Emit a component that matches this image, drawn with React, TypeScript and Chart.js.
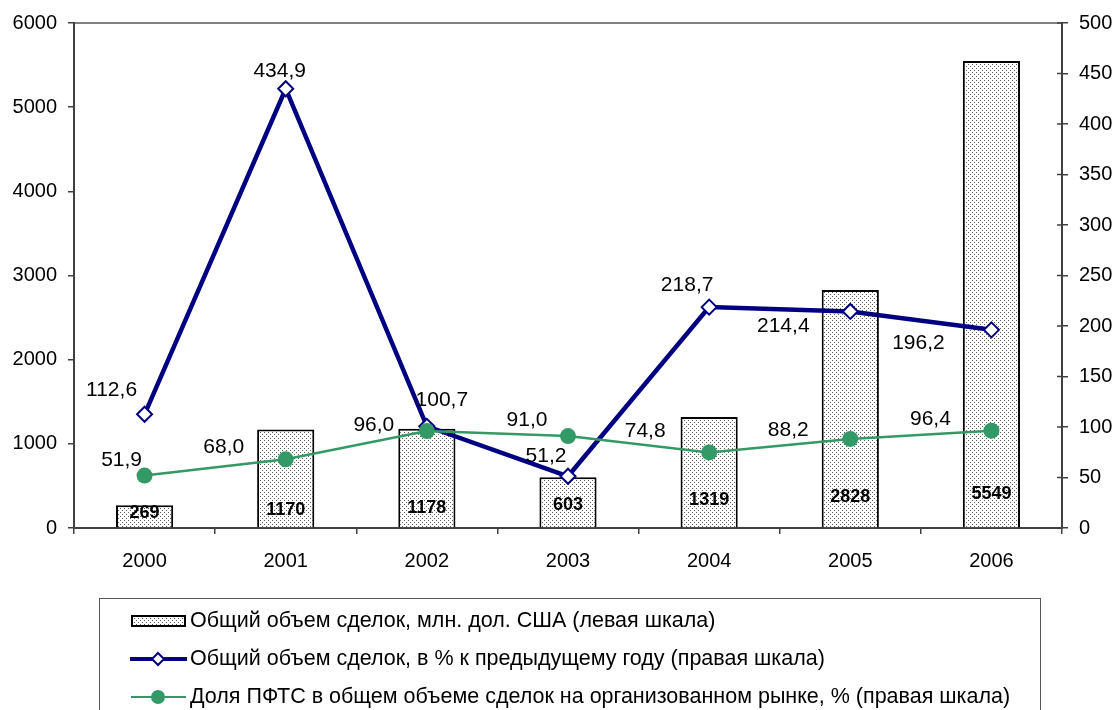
import React, { useEffect, useRef } from "react";
import { Chart, registerables } from "chart.js";

Chart.register(...registerables);

const years = ["2000", "2001", "2002", "2003", "2004", "2005", "2006"];
const volume = [269, 1170, 1178, 603, 1319, 2828, 5549];
const growthPct = [112.6, 434.9, 100.7, 51.2, 218.7, 214.4, 196.2];
const pftsShare = [51.9, 68.0, 96.0, 91.0, 74.8, 88.2, 96.4];

const legendLabels = [
  "Общий объем сделок, млн. дол. США (левая шкала)",
  "Общий объем сделок, в % к предыдущему году (правая шкала)",
  "Доля ПФТС в общем объеме сделок на организованном рынке, % (правая шкала)",
];

// label placement (pixels relative to the point)
const growthLabelOffsets = [[-33, -24], [-6, -18], [15, -26], [-22, -20], [-22, -22], [-67, 15], [-73, 13]];
const shareLabelOffsets = [[-23, -15], [-62, -12], [-53, -6], [-41, -16], [-64, -21], [-62, -9], [-61, -11]];
const barLabelRise = [15, 18, 20, 23, 28, 31, 34];

const NAVY = "#000080";
const GREEN = "#339966";
const FONT = "'Liberation Sans', Arial, sans-serif";

function makePattern(): CanvasPattern | string {
  const c = document.createElement("canvas");
  c.width = 4;
  c.height = 4;
  const g = c.getContext("2d");
  if (!g) return "#eee";
  g.fillStyle = "#ffffff";
  g.fillRect(0, 0, 4, 4);
  g.fillStyle = "#606060";
  g.fillRect(0, 0, 1, 1);
  g.fillRect(2, 2, 1, 1);
  const p = g.createPattern(c, "repeat");
  return p || "#eee";
}

const fmt = (v: number) => v.toFixed(1).replace(".", ",");

export default function App() {
  const ref = useRef<HTMLCanvasElement | null>(null);

  useEffect(() => {
    if (!ref.current) return;
    const pattern = makePattern();

    const framePlugin = {
      id: "frame",
      beforeDraw(chart: any) {
        const { ctx, chartArea: a } = chart;
        ctx.save();
        ctx.fillStyle = "#ffffff";
        ctx.fillRect(0, 0, chart.width, chart.height);
        ctx.strokeStyle = "#808080";
        ctx.lineWidth = 2;
        ctx.strokeRect(a.left, a.top, a.right - a.left, a.bottom - a.top);
        ctx.restore();
      },
      afterDatasetsDraw(chart: any) {
        const { ctx } = chart;
        const y1 = chart.scales.y1;
        const a = chart.chartArea;
        ctx.save();
        ctx.strokeStyle = "#404040";
        ctx.lineWidth = 1.5;
        y1.ticks.forEach((t: any) => {
          const py = y1.getPixelForValue(t.value);
          ctx.beginPath();
          ctx.moveTo(a.right - 5, py);
          ctx.lineTo(a.right, py);
          ctx.stroke();
        });
        const barMeta = chart.getDatasetMeta(2);
        ctx.fillStyle = "#000";
        ctx.textAlign = "center";
        ctx.textBaseline = "middle";
        ctx.font = `bold 18px ${FONT}`;
        barMeta.data.forEach((el: any, i: number) => {
          ctx.fillText(String(volume[i]), el.x, a.bottom - barLabelRise[i]);
        });
        ctx.font = `21px ${FONT}`;
        const gMeta = chart.getDatasetMeta(1);
        gMeta.data.forEach((el: any, i: number) => {
          ctx.fillText(fmt(growthPct[i]), el.x + growthLabelOffsets[i][0], el.y + growthLabelOffsets[i][1]);
        });
        const sMeta = chart.getDatasetMeta(0);
        sMeta.data.forEach((el: any, i: number) => {
          ctx.fillText(fmt(pftsShare[i]), el.x + shareLabelOffsets[i][0], el.y + shareLabelOffsets[i][1]);
        });
        ctx.restore();
      },
      afterDraw(chart: any) {
        const { ctx } = chart;
        ctx.save();
        ctx.strokeStyle = "#555555";
        ctx.lineWidth = 1;
        ctx.strokeRect(99.5, 598.5, 941, 140);
        const rows = [621, 659, 697];
        ctx.fillStyle = pattern as any;
        ctx.fillRect(132, rows[0] - 5, 53, 10);
        ctx.strokeStyle = "#000";
        ctx.lineWidth = 2;
        ctx.strokeRect(132, rows[0] - 5, 53, 10);
        ctx.strokeStyle = NAVY;
        ctx.lineWidth = 4;
        ctx.beginPath();
        ctx.moveTo(130, rows[1]);
        ctx.lineTo(187, rows[1]);
        ctx.stroke();
        ctx.beginPath();
        ctx.moveTo(158, rows[1] - 6);
        ctx.lineTo(164, rows[1]);
        ctx.lineTo(158, rows[1] + 6);
        ctx.lineTo(152, rows[1]);
        ctx.closePath();
        ctx.fillStyle = "#fff";
        ctx.fill();
        ctx.lineWidth = 2;
        ctx.stroke();
        ctx.strokeStyle = GREEN;
        ctx.lineWidth = 2;
        ctx.beginPath();
        ctx.moveTo(131, rows[2]);
        ctx.lineTo(186, rows[2]);
        ctx.stroke();
        ctx.beginPath();
        ctx.arc(158, rows[2], 7, 0, Math.PI * 2);
        ctx.fillStyle = GREEN;
        ctx.fill();
        ctx.fillStyle = "#000";
        ctx.font = `21.5px ${FONT}`;
        ctx.textAlign = "left";
        ctx.textBaseline = "middle";
        legendLabels.forEach((t, i) => ctx.fillText(t, 190, rows[i]));
        ctx.restore();
      },
    };

    const tickFont = { family: FONT, size: 20 };
    const axisBorder = { color: "#404040", width: 2 };
    const plain = (v: any) => String(v);
    const chart = new Chart(ref.current, {
      type: "bar",
      data: {
        labels: years,
        datasets: [
          {
            type: "line",
            label: legendLabels[2],
            data: pftsShare,
            yAxisID: "y1",
            borderColor: GREEN,
            backgroundColor: GREEN,
            borderWidth: 2.5,
            pointStyle: "circle",
            pointRadius: 8,
            pointBorderWidth: 0,
            pointBackgroundColor: GREEN,
            tension: 0,
            order: 0,
          },
          {
            type: "line",
            label: legendLabels[1],
            data: growthPct,
            yAxisID: "y1",
            borderColor: NAVY,
            backgroundColor: "#ffffff",
            borderWidth: 4.5,
            pointStyle: "rectRot",
            pointRadius: 7.5,
            pointBorderWidth: 2,
            pointBorderColor: NAVY,
            pointBackgroundColor: "#ffffff",
            tension: 0,
            order: 1,
          },
          {
            type: "bar",
            label: legendLabels[0],
            data: volume,
            yAxisID: "y",
            backgroundColor: pattern as any,
            borderColor: "#000000",
            borderWidth: 2,
            categoryPercentage: 1,
            barPercentage: 0.405,
            order: 2,
          },
        ],
      } as any,
      options: {
        responsive: false,
        animation: false,
        devicePixelRatio: 1,
        layout: { padding: { top: 22, left: 0, right: 0, bottom: 0 } },
        plugins: {
          legend: { display: false },
          tooltip: { enabled: false },
          title: { display: false },
        },
        scales: {
          x: {
            type: "category",
            offset: true,
            grid: { offset: true, drawOnChartArea: false, tickLength: 6, color: "#404040", lineWidth: 1.5 },
            border: axisBorder,
            ticks: { font: tickFont, color: "#000", padding: 15, maxRotation: 0 },
            afterFit: (s: any) => { s.height = 182; },
          },
          y: {
            position: "left",
            min: 0,
            max: 6000,
            ticks: { stepSize: 1000, font: tickFont, color: "#000", padding: 11, callback: plain },
            grid: { drawOnChartArea: false, tickLength: 6, color: "#404040", lineWidth: 1.5 },
            border: axisBorder,
            afterFit: (s: any) => { s.width = 74; },
          },
          y1: {
            position: "right",
            min: 0,
            max: 500,
            ticks: { stepSize: 50, font: tickFont, color: "#000", padding: 11, callback: plain },
            grid: { drawOnChartArea: false, tickLength: 6, color: "#404040", lineWidth: 1.5 },
            border: axisBorder,
            afterFit: (s: any) => { s.width = 55; },
          },
        },
      } as any,
      plugins: [framePlugin],
    });
    return () => chart.destroy();
  }, []);

  return (
    <div style={{ position: "absolute", left: 0, top: 0, width: 1117, height: 710, background: "#fff" }}>
      <canvas ref={ref} width={1117} height={710} style={{ display: "block" }} />
    </div>
  );
}
